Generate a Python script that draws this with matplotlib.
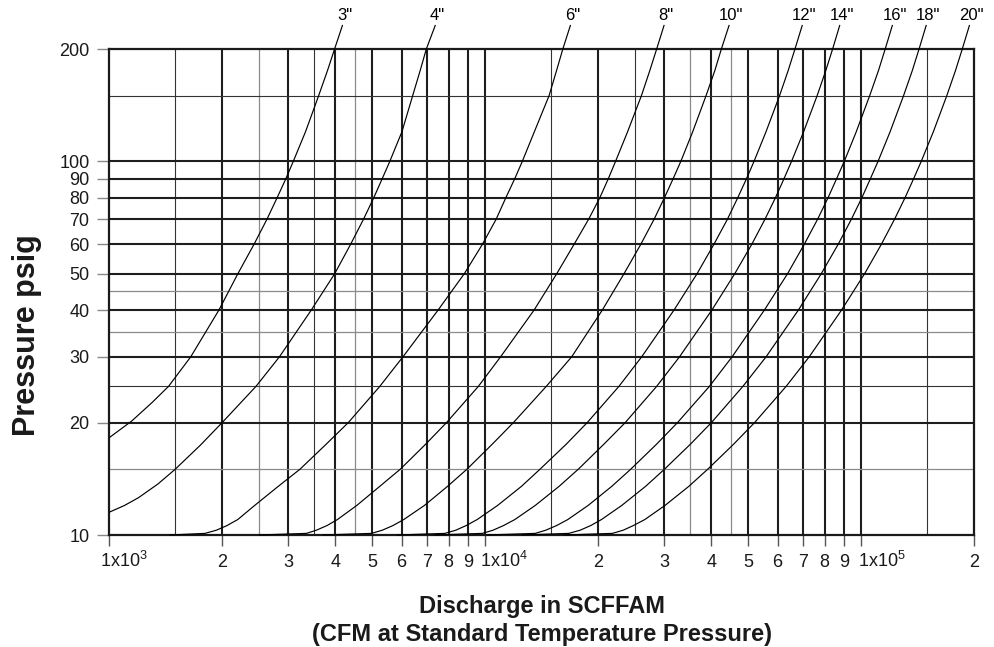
import matplotlib
matplotlib.use('Agg')
import matplotlib.pyplot as plt
from matplotlib.ticker import NullLocator, FixedLocator, FixedFormatter

plt.rcParams['font.family'] = ['Liberation Sans', 'DejaVu Sans']
plt.rcParams['mathtext.fontset'] = 'custom'
plt.rcParams['mathtext.rm'] = 'Liberation Sans'
plt.rcParams['mathtext.it'] = 'Liberation Sans:italic'
plt.rcParams['mathtext.bf'] = 'Liberation Sans:bold'

# ---------------- data ----------------
pipe_sizes = ['3"', '4"', '6"', '8"', '10"', '12"', '14"', '16"', '18"', '20"']

# common pressure levels (psig) used for 6" .. 20"
pressure_levels = [10, 10.1, 10.3, 10.6, 11, 12, 13.5, 15, 17.5, 20, 25, 30,
                   40, 50, 60, 70, 80, 90, 100, 120, 150, 175, 200, 232]

p_3in = [18.2, 20.2, 22.6, 25, 30, 40, 50, 60, 70, 80, 90, 100, 120, 150,
         175, 200, 232]
q_3in = [1000, 1150, 1300, 1440, 1650, 1960, 2200, 2430, 2630, 2800, 2955,
         3090, 3330, 3610, 3810, 3980, 4180]

p_4in = [11.5, 12.0, 12.6, 13.7, 15, 17.4, 20, 25, 30, 40, 50, 60, 70, 80, 90,
         100, 120, 150, 175, 200, 232]
q_4in = [1000, 1100, 1200, 1350, 1500, 1750, 2000, 2460, 2840, 3450, 3980,
         4390, 4750, 5060, 5330, 5580, 6010, 6420, 6720, 6980, 7380]

q_6in = [1450, 1800, 1930, 2060, 2200, 2440, 2820, 3220, 3780, 4330, 5250,
         6050, 7500, 8800, 9840, 10700, 11360, 12000, 12560, 13520, 14800,
         15490, 16100, 16880]
q_8in = [2500, 3350, 3560, 3800, 4050, 4560, 5250, 5950, 6950, 7900, 9600,
         11000, 13500, 15500, 17250, 18850, 20200, 21280, 22230, 23930, 26050,
         27420, 28600, 29950]
q_10in = [3700, 4990, 5330, 5690, 6080, 6900, 7950, 8950, 10450, 11900, 14550,
          17000, 20500, 23400, 25950, 28150, 30000, 31650, 33150, 35650, 38700,
          40830, 42500, 44600]
q_12in = [5820, 7820, 8360, 8910, 9530, 10800, 12500, 14000, 16440, 18700,
          22700, 26100, 31800, 36600, 40600, 44100, 47000, 49600, 51900, 55850,
          60700, 63970, 66700, 69800]
q_14in = [7330, 9840, 10500, 11200, 12000, 13600, 15740, 17700, 20700, 23600,
          28600, 32900, 40100, 46100, 51200, 55500, 59200, 62400, 65300, 70310,
          76400, 80540, 84000, 87800]
q_16in = [10100, 13600, 14500, 15500, 16600, 18800, 21730, 24400, 28580, 32500,
          39500, 45400, 55300, 63700, 70600, 76600, 81700, 86100, 90200, 97050,
          105400, 111200, 115900, 121200]
q_18in = [12500, 16700, 17900, 19100, 20400, 23100, 26730, 30000, 35160, 40000,
          48500, 55900, 68100, 78300, 86900, 94200, 100500, 105900, 110900,
          119400, 129700, 136800, 142600, 149100]
q_20in = [16200, 21800, 23300, 24800, 26600, 30100, 34830, 39100, 45810, 52100,
          63200, 72800, 88700, 102100, 113200, 122700, 130900, 138000, 144500,
          155600, 169000, 178200, 185800, 194300]

x_ticks = [1e3, 2e3, 3e3, 4e3, 5e3, 6e3, 7e3, 8e3, 9e3,
           1e4, 2e4, 3e4, 4e4, 5e4, 6e4, 7e4, 8e4, 9e4, 1e5, 2e5]
x_tick_labels = ['', '2', '3', '4', '5', '6', '7', '8', '9',
                 '', '2', '3', '4', '5', '6', '7', '8', '9',
                 '', '2']
decade_ticks = [1e3, 1e4, 1e5]
decade_labels = [r'1x10$^{3}$', r'1x10$^{4}$', r'1x10$^{5}$']
y_ticks = [10, 20, 30, 40, 50, 60, 70, 80, 90, 100, 200]
y_tick_labels = ['10', '20', '30', '40', '50', '60', '70', '80', '90', '100', '200']

curves = [
    (q_3in, p_3in), (q_4in, p_4in),
    (q_6in, pressure_levels), (q_8in, pressure_levels),
    (q_10in, pressure_levels), (q_12in, pressure_levels),
    (q_14in, pressure_levels), (q_16in, pressure_levels),
    (q_18in, pressure_levels), (q_20in, pressure_levels),
]

# ---------------- figure ----------------
W, H = 995, 647
fig = plt.figure(figsize=(W / 100, H / 100), dpi=100)
L, R, T, B = 109, 974.3, 49, 535
ax = fig.add_axes([L / W, 1 - B / H, (R - L) / W, (B - T) / H])
ax.set_xscale('log')
ax.set_yscale('log')
ax.set_xlim(1e3, 2e5)
ax.set_ylim(10, 200)

# grid
thick_x = [2e3, 3e3, 4e3, 5e3, 6e3, 7e3, 8e3, 9e3,
           1e4, 2e4, 3e4, 4e4, 5e4, 6e4, 7e4, 8e4, 9e4, 1e5]
thin_x_dark = [1.5e3, 3.5e3, 1.5e4, 2.5e4, 1.5e5]
thin_x_gray = [2.5e3, 4.5e3, 3.5e4, 4.5e4]
thick_y = [20, 30, 40, 50, 60, 70, 80, 90, 100]
thin_y_dark = [25, 150]
thin_y_gray = [15, 35, 45]

for v in thick_x:
    ax.axvline(v, color='#1e1e1e', lw=1.5, zorder=1)
for v in thin_x_dark:
    ax.axvline(v, color='#333333', lw=0.8, zorder=1)
for v in thin_x_gray:
    ax.axvline(v, color='#8a8a8a', lw=0.9, zorder=1)
for v in thick_y:
    ax.axhline(v, color='#1e1e1e', lw=1.5, zorder=1)
for v in thin_y_dark:
    ax.axhline(v, color='#333333', lw=0.8, zorder=1)
for v in thin_y_gray:
    ax.axhline(v, color='#8a8a8a', lw=0.9, zorder=1)

for s in ax.spines.values():
    s.set_linewidth(1.6)
    s.set_color('#1a1a1a')

# curves
for name, (q, p) in zip(pipe_sizes, curves):
    ax.plot(q, p, color='black', lw=0.85, zorder=3, clip_on=False,
            solid_capstyle='butt', solid_joinstyle='round')
    ax.annotate(name, xy=(q[-1], p[-1]), xytext=(1.5, 1.5),
                textcoords='offset points', ha='center', va='bottom',
                fontsize=12, annotation_clip=False)

# ticks
ax.xaxis.set_major_locator(FixedLocator(x_ticks))
ax.xaxis.set_major_formatter(FixedFormatter(x_tick_labels))
ax.xaxis.set_minor_locator(NullLocator())
ax.yaxis.set_major_locator(FixedLocator(y_ticks))
ax.yaxis.set_major_formatter(FixedFormatter(y_tick_labels))
ax.yaxis.set_minor_locator(NullLocator())
ax.tick_params(axis='x', which='major', direction='out', length=8, width=1.0,
               color='#555555', pad=6, labelsize=13, labelcolor='#1a1a1a')
ax.tick_params(axis='y', which='major', direction='out', length=9, width=1.0,
               color='#888888', pad=5, labelsize=13, labelcolor='#1a1a1a')

# decade labels, left-aligned at their ticks like the original
for xv, lab, dx in zip(decade_ticks, decade_labels, [-6.5, -3.6, -2.2]):
    ax.annotate(lab, xy=(xv, 0), xycoords=('data', 'axes fraction'),
                xytext=(dx, -23.3), textcoords='offset points',
                ha='left', va='baseline', fontsize=13, color='#1a1a1a',
                annotation_clip=False)

# axis titles
fig.text(27 / W, 1 - 335 / H, 'Pressure psig', rotation=90, ha='center',
         va='center', fontsize=22, fontweight='bold', color='#1a1a1a')
fig.text((L + R) / 2 / W, 1 - 606 / H, 'Discharge in SCFFAM', ha='center',
         va='center', fontsize=17, fontweight='bold', color='#1a1a1a')
fig.text((L + R) / 2 / W, 1 - 634 / H,
         '(CFM at Standard Temperature Pressure)', ha='center',
         va='center', fontsize=17, fontweight='bold', color='#1a1a1a')

fig.savefig('out.png', dpi=100)
